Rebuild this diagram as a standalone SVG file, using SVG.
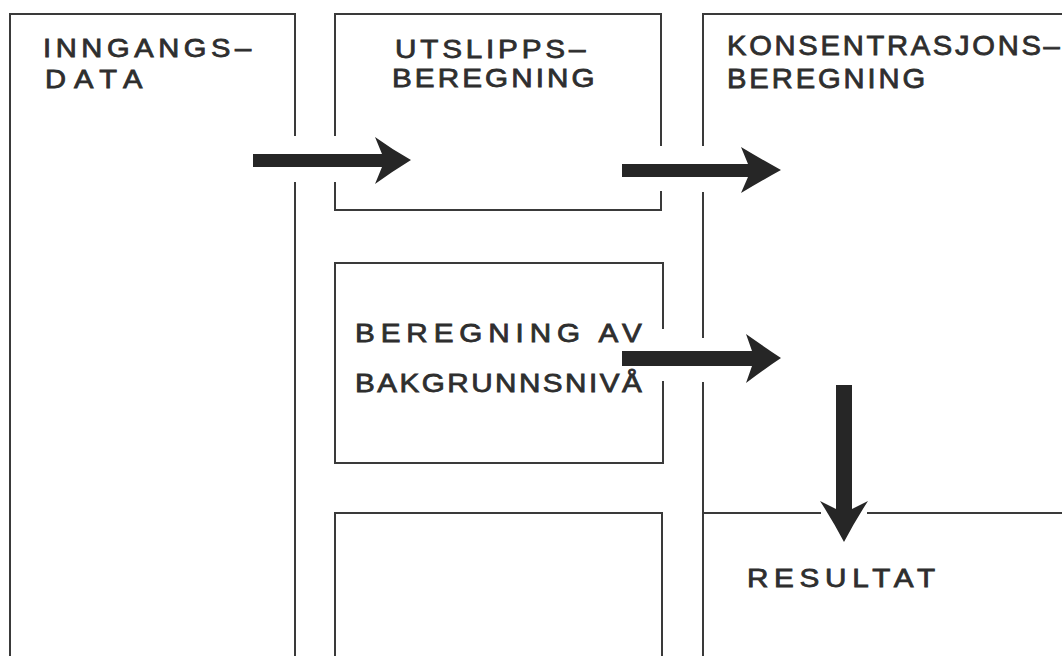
<svg xmlns="http://www.w3.org/2000/svg" width="1062" height="656" viewBox="0 0 1062 656">
  <style>
    .edge { stroke: #3a3a3a; stroke-width: 2; fill: none; stroke-linecap: square; }
    .lbl { font-family: "Liberation Sans", Arial, Helvetica, sans-serif; fill: #2e2e2e; stroke: #2e2e2e; stroke-width: 0.8; }
    .arrow { fill: #262626; }
  </style>
  <rect width="1062" height="656" fill="#ffffff"/>

  <!-- Input data column (labels use wide lettering: glyphs stretched 1.12x horizontally) -->
  <g id="inngangsdata">
    <path class="edge" d="M10,656 V14 H295 V135 M295,183 V656"/>
    <text class="lbl" transform="translate(43,57) scale(1.12,1)" font-size="26" textLength="186" lengthAdjust="spacing">INNGANGS–</text>
    <text class="lbl" transform="translate(45,88) scale(1.12,1)" font-size="26" textLength="87" lengthAdjust="spacing">DATA</text>
  </g>

  <!-- Emission calculation -->
  <g id="utslippsberegning">
    <path class="edge" d="M335,135 V14 H661 V145 M661,192 V210 H335 V183"/>
    <text class="lbl" transform="translate(395,58) scale(1.12,1)" font-size="26.5" textLength="170" lengthAdjust="spacing">UTSLIPPS–</text>
    <text class="lbl" transform="translate(392,87) scale(1.12,1)" font-size="26.5" textLength="181" lengthAdjust="spacing">BEREGNING</text>
  </g>

  <!-- Background level calculation -->
  <g id="bakgrunnsniva">
    <path class="edge" d="M663,328 V263 H335 V463 H663 V382"/>
    <text class="lbl" transform="translate(355,342) scale(1.12,1)" font-size="26.5" textLength="256" lengthAdjust="spacing">BEREGNING AV</text>
    <text class="lbl" transform="translate(355,392) scale(1.12,1)" font-size="26.5" textLength="256" lengthAdjust="spacing">BAKGRUNNSNIVÅ</text>
  </g>

  <!-- Empty lower box -->
  <g id="tom-boks">
    <path class="edge" d="M335,656 V513 H662 V656"/>
  </g>

  <!-- Concentration calculation -->
  <g id="konsentrasjonsberegning">
    <path class="edge" d="M1062,14 H703 V145 M703,193 V337 M703,383 V656"/>
    <text class="lbl" transform="translate(727,55) scale(1.06,1)" font-size="27.5" textLength="314" lengthAdjust="spacing">KONSENTRASJONS–</text>
    <text class="lbl" transform="translate(727,88) scale(1.06,1)" font-size="27.5" textLength="187" lengthAdjust="spacing">BEREGNING</text>
  </g>

  <!-- Result -->
  <g id="resultat">
    <path class="edge" d="M703,513 H820 M868,513 H1062"/>
    <text class="lbl" transform="translate(747,587) scale(1.12,1)" font-size="26.5" textLength="168" lengthAdjust="spacing">RESULTAT</text>
  </g>

  <!-- Flow arrows -->
  <g id="connectors">
    <path class="arrow" d="M253,154 H382 L375,137 Q393,150 411,160 Q393,171 375,184 L382,167 H253 Z"/>
    <path class="arrow" d="M622,164 H748 L741,147 Q761,159 781,170 Q761,181 741,193 L748,177 H622 Z"/>
    <path class="arrow" d="M622,351 H752 L746,334 Q763,346 781,358 Q763,370 746,383 L752,366 H622 Z"/>
    <path class="arrow" d="M836,385 H852 V509 L868,501 Q855,521 844,542 Q833,521 820,501 L836,509 Z"/>
  </g>
</svg>
